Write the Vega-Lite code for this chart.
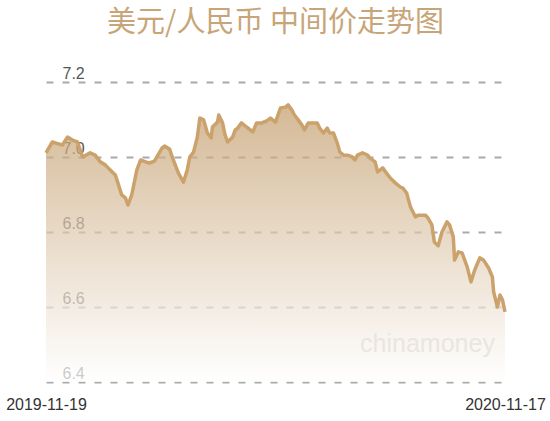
{
  "$schema": "https://vega.github.io/schema/vega-lite/v6.json",
  "width": 459,
  "height": 300,
  "autosize": {"type": "none"},
  "padding": {"left": 46, "top": 82, "right": 45, "bottom": 39},
  "background": "white",
  "config": {"view": {"stroke": null}},
  "title": {
    "text": "美元/人民币 中间价走势图",
    "font": "Noto Sans CJK SC",
    "fontSize": 29,
    "fontWeight": "normal",
    "color": "#c8a578",
    "anchor": "middle",
    "offset": 27
  },
  "data": {
    "values": [
      {"date": "2019-11-19", "rate": 7.011},
      {"date": "2019-11-24", "rate": 7.040},
      {"date": "2019-11-29", "rate": 7.035},
      {"date": "2019-12-02", "rate": 7.032},
      {"date": "2019-12-06", "rate": 7.053},
      {"date": "2019-12-10", "rate": 7.045},
      {"date": "2019-12-14", "rate": 7.040},
      {"date": "2019-12-18", "rate": 7.000},
      {"date": "2019-12-24", "rate": 7.011},
      {"date": "2019-12-28", "rate": 7.005},
      {"date": "2020-01-01", "rate": 6.987},
      {"date": "2020-01-05", "rate": 6.979},
      {"date": "2020-01-09", "rate": 6.965},
      {"date": "2020-01-13", "rate": 6.952},
      {"date": "2020-01-15", "rate": 6.931},
      {"date": "2020-01-18", "rate": 6.899},
      {"date": "2020-01-21", "rate": 6.891},
      {"date": "2020-01-23", "rate": 6.872},
      {"date": "2020-01-26", "rate": 6.899},
      {"date": "2020-01-30", "rate": 6.965},
      {"date": "2020-02-02", "rate": 6.992},
      {"date": "2020-02-06", "rate": 6.987},
      {"date": "2020-02-09", "rate": 6.984},
      {"date": "2020-02-13", "rate": 6.989},
      {"date": "2020-02-19", "rate": 7.024},
      {"date": "2020-02-21", "rate": 7.029},
      {"date": "2020-02-25", "rate": 7.021},
      {"date": "2020-02-28", "rate": 6.992},
      {"date": "2020-03-03", "rate": 6.957},
      {"date": "2020-03-07", "rate": 6.933},
      {"date": "2020-03-10", "rate": 6.965},
      {"date": "2020-03-12", "rate": 7.000},
      {"date": "2020-03-15", "rate": 7.013},
      {"date": "2020-03-18", "rate": 7.053},
      {"date": "2020-03-20", "rate": 7.104},
      {"date": "2020-03-23", "rate": 7.099},
      {"date": "2020-03-26", "rate": 7.064},
      {"date": "2020-03-29", "rate": 7.051},
      {"date": "2020-03-30", "rate": 7.080},
      {"date": "2020-04-03", "rate": 7.093},
      {"date": "2020-04-04", "rate": 7.112},
      {"date": "2020-04-07", "rate": 7.091},
      {"date": "2020-04-09", "rate": 7.059},
      {"date": "2020-04-11", "rate": 7.040},
      {"date": "2020-04-15", "rate": 7.053},
      {"date": "2020-04-17", "rate": 7.072},
      {"date": "2020-04-19", "rate": 7.077},
      {"date": "2020-04-22", "rate": 7.091},
      {"date": "2020-04-26", "rate": 7.080},
      {"date": "2020-05-01", "rate": 7.067},
      {"date": "2020-05-04", "rate": 7.091},
      {"date": "2020-05-08", "rate": 7.091},
      {"date": "2020-05-12", "rate": 7.096},
      {"date": "2020-05-15", "rate": 7.104},
      {"date": "2020-05-19", "rate": 7.093},
      {"date": "2020-05-23", "rate": 7.131},
      {"date": "2020-05-27", "rate": 7.133},
      {"date": "2020-05-29", "rate": 7.139},
      {"date": "2020-06-01", "rate": 7.125},
      {"date": "2020-06-03", "rate": 7.112},
      {"date": "2020-06-06", "rate": 7.099},
      {"date": "2020-06-09", "rate": 7.085},
      {"date": "2020-06-11", "rate": 7.072},
      {"date": "2020-06-14", "rate": 7.091},
      {"date": "2020-06-18", "rate": 7.091},
      {"date": "2020-06-21", "rate": 7.091},
      {"date": "2020-06-23", "rate": 7.077},
      {"date": "2020-06-26", "rate": 7.064},
      {"date": "2020-06-29", "rate": 7.077},
      {"date": "2020-07-01", "rate": 7.064},
      {"date": "2020-07-04", "rate": 7.064},
      {"date": "2020-07-07", "rate": 7.037},
      {"date": "2020-07-09", "rate": 7.013},
      {"date": "2020-07-12", "rate": 7.005},
      {"date": "2020-07-15", "rate": 7.005},
      {"date": "2020-07-19", "rate": 7.000},
      {"date": "2020-07-21", "rate": 6.992},
      {"date": "2020-07-23", "rate": 7.005},
      {"date": "2020-07-27", "rate": 7.011},
      {"date": "2020-07-31", "rate": 7.005},
      {"date": "2020-08-02", "rate": 6.997},
      {"date": "2020-08-06", "rate": 6.987},
      {"date": "2020-08-08", "rate": 6.960},
      {"date": "2020-08-12", "rate": 6.971},
      {"date": "2020-08-15", "rate": 6.957},
      {"date": "2020-08-18", "rate": 6.944},
      {"date": "2020-08-22", "rate": 6.931},
      {"date": "2020-08-26", "rate": 6.920},
      {"date": "2020-08-28", "rate": 6.917},
      {"date": "2020-08-31", "rate": 6.904},
      {"date": "2020-09-03", "rate": 6.867},
      {"date": "2020-09-07", "rate": 6.840},
      {"date": "2020-09-09", "rate": 6.845},
      {"date": "2020-09-15", "rate": 6.845},
      {"date": "2020-09-17", "rate": 6.837},
      {"date": "2020-09-20", "rate": 6.819},
      {"date": "2020-09-22", "rate": 6.773},
      {"date": "2020-09-25", "rate": 6.763},
      {"date": "2020-09-28", "rate": 6.800},
      {"date": "2020-10-02", "rate": 6.827},
      {"date": "2020-10-04", "rate": 6.819},
      {"date": "2020-10-07", "rate": 6.787},
      {"date": "2020-10-08", "rate": 6.725},
      {"date": "2020-10-11", "rate": 6.747},
      {"date": "2020-10-14", "rate": 6.744},
      {"date": "2020-10-18", "rate": 6.707},
      {"date": "2020-10-21", "rate": 6.667},
      {"date": "2020-10-24", "rate": 6.699},
      {"date": "2020-10-28", "rate": 6.731},
      {"date": "2020-10-31", "rate": 6.725},
      {"date": "2020-11-04", "rate": 6.704},
      {"date": "2020-11-07", "rate": 6.680},
      {"date": "2020-11-08", "rate": 6.640},
      {"date": "2020-11-11", "rate": 6.600},
      {"date": "2020-11-13", "rate": 6.632},
      {"date": "2020-11-15", "rate": 6.619},
      {"date": "2020-11-17", "rate": 6.587}
    ]
  },
  "encoding": {
    "x": {
      "field": "date",
      "type": "temporal",
      "scale": {"type": "utc", "nice": false},
      "axis": {
        "title": null,
        "values": [
          {"year": 2019, "month": 11, "date": 19, "utc": true},
          {"year": 2020, "month": 11, "date": 17, "utc": true}
        ],
        "format": "%Y-%m-%d",
        "grid": false,
        "domain": false,
        "ticks": false,
        "labelPadding": 14,
        "labelFlush": false,
        "labelBound": false,
        "labelFont": "Liberation Sans",
        "labelFontSize": 16,
        "labelColor": "#333333",
        "labelOverlap": false
      }
    },
    "y": {
      "field": "rate",
      "type": "quantitative",
      "scale": {"domain": [6.4, 7.2], "nice": false, "zero": false},
      "axis": {
        "title": null,
        "values": [6.4, 6.6, 6.8, 7.0, 7.2],
        "format": ".1f",
        "grid": true,
        "gridDash": [7, 9],
        "gridColor": "#aaaaaa",
        "gridWidth": 2,
        "domain": false,
        "ticks": false,
        "tickSize": 0,
        "labelAlign": "left",
        "labelBaseline": "alphabetic",
        "labelPadding": -16,
        "labelOffset": -4,
        "labelFont": "Liberation Sans",
        "labelFontSize": 16,
        "labelColor": "#555555"
      }
    }
  },
  "layer": [
    {
      "mark": {
        "type": "area",
        "fillOpacity": 0.7,
        "fill": {
          "gradient": "linear",
          "x1": 0, "y1": 0, "x2": 0, "y2": 1,
          "stops": [
            {"offset": 0, "color": "#c29b69"},
            {"offset": 1, "color": "#ffffff"}
          ]
        }
      },
      "encoding": {"y2": {"datum": 6.4}}
    },
    {
      "mark": {"type": "line", "color": "#cba26c", "strokeWidth": 3.5, "strokeJoin": "round"}
    },
    {
      "data": {"values": [{"date": "2020-11-09", "rate": 6.48, "label": "chinamoney"}]},
      "mark": {
        "type": "text",
        "align": "right",
        "baseline": "alphabetic",
        "font": "Liberation Sans",
        "fontSize": 25,
        "color": "#e9e5e1"
      },
      "encoding": {"text": {"field": "label"}}
    }
  ]
}
